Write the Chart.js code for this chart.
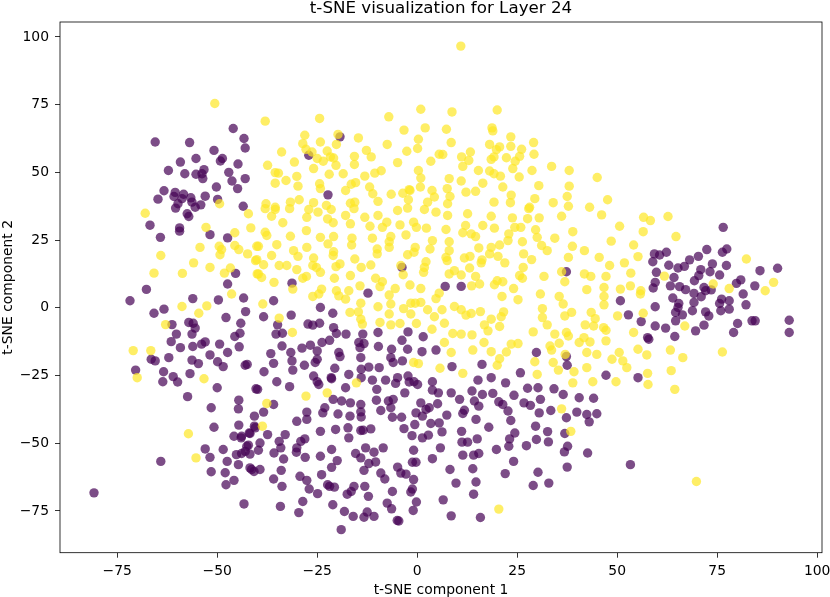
<!DOCTYPE html>
<html>
<head>
<meta charset="utf-8">
<script src="https://cdn.jsdelivr.net/npm/chart.js@4.4.1/dist/chart.umd.min.js"></script>
<style>
  html, body { margin: 0; padding: 0; background: #fff; }
  #wrap { width: 830px; height: 597px; }
</style>
</head>
<body>
<div id="wrap"><canvas id="tsne"></canvas></div>
<script>
// tick labels and axis limits
const xTicks = [-75, -50, -25, 0, 25, 50, 75, 100];
const yTicks = [-75, -50, -25, 0, 25, 50, 75, 100];
const xRange = [-89.3, 101.2];
const yRange = [-90.4, 105.5];

// class 0 (dark purple) points, [component 1, component 2]
const purplePts = [
  [-46,66.2],[-65.5,61.2],[-56.9,61],[-43.3,62.5],[-43,59],[-50.8,58.1],[-48.7,55.1],[-49.2,54.2],[-55.3,55.1],[-59.2,53.8],
  [-44.8,53.1],[-62.2,50.7],[-58.1,49.5],[-55.3,49.3],[-53.3,51],[-53.8,49.5],[-53.6,47.7],[-47.1,50],[-46.3,46.8],[-43,47.7],
  [-44.9,44],[-50.2,44.6],[-63.3,43.2],[-64.8,40.1],[-60.5,42.6],[-60.8,41.1],[-58.4,41.9],[-58.8,40.3],[-56.6,40.6],[-56.3,39],
  [-59.8,38.4],[-60.4,36.8],[-55.5,37.1],[-54.1,38],[-53,41.2],[-49.9,40],[-57.5,34.7],[-57.1,33.7],[-43.5,37.5],[-66.8,30.5],
  [-59.4,29.5],[-59.4,28.3],[-51.8,27],[-64.2,26],[-47.4,25.8],[-45.4,12.7],[-47.4,8.8],[-67.7,6.8],
  [-71.8,2.6],[-56.1,3.4],[-49.7,2.9],[-43.4,3.6],[-63.3,-0.5],[-65.8,-2],[-42.9,-1.4],[-47.8,-3.6],[-61.3,-6.2],[-57.1,-5.4],
  [-56,-5.7],[-55.5,-7.5],[-44.1,-5.7],[-60.2,-9.7],[-56.3,-9.7],[-44.3,-9.4],[-45.6,-10.6],[-61.5,-12.5],[-59.2,-14.7],[-56.1,-14.3],
  [-53.9,-13.4],[-53,-12.6],[-49.4,-13.4],[-44.5,-14.4],[-62.1,-18.4],[-66.5,-19],[-65.5,-19.6],[-51.8,-17.4],[-56.3,-19.3],[-54.7,-20.6],
  [-47.4,-16.5],[-49.9,-19.9],[-48.5,-21.7],[-43,-21.2],[-42.5,-20.9],[-70.4,-23],[-63.4,-23.6],[-56.8,-24.3],[-61,-25.4],[-63.6,-27.3],
  [-59.9,-27.4],[-50,-29.5],[-40.3,-29.9],[-57.4,-32.8],[-44.6,-34.1],[-44.7,-37.3],[-51.5,-36.9],[-40.7,-40],[-44.6,-43.3],[-50.8,-44.1],
  [-45.8,-47.4],[-44,-48],[-41.8,-46.4],[-40.5,-44.3],[-42.2,-50.7],[-53,-52.1],[-51.8,-55.2],[-48.5,-52.3],[-45.2,-54.2],[-43,-53],
  [-47.5,-56.7],[-44.7,-57.9],[-41.8,-59.1],[-64.1,-56.7],[-51.5,-60.5],[-48,-60.9],[-45.8,-63.7],[-47.8,-65.3],[-40.8,-60.4],[-80.8,-68.3],
  [-19.3,63.1],[-27.1,56.3],[-22.3,41.7],
  [-3.8,14.9],[-31.3,9.1],[7,7.9],[-12.3,5.4],[-35.9,2.6],[-38.4,-3.3],[-31.5,-2.7],[-21.1,-2],[-24.2,0.1],[-27.3,-6],
  [-26.1,-6.4],[-24.4,-5.7],[-34.9,-6.3],[-35.3,-9.7],[-33.7,-9.4],[-20.9,-7.3],[-20.2,-9.5],[-17.8,-9.7],[-13.6,-9.7],[-9.8,-9.1],
  [-2.3,-8.9],[1.5,-10.7],[-33.8,-14.1],[-31.6,-16.5],[-28.8,-14.9],[-26.7,-13.8],[-25,-15.9],[-23.8,-12.8],[-21.9,-12],[-19.6,-16.5],
  [-19.3,-18],[-14.6,-12.8],[-14.3,-14.7],[-13.3,-13.2],[-14.1,-18.4],[-9.7,-14.3],[-6.4,-15.3],[-3.8,-12],[-2.4,-15.3],[1.2,-16.2],
  [4.7,-15.6],[-36.6,-16.9],[-35.9,-20.5],[-31.3,-19.6],[-28.2,-21.2],[-25.5,-20.2],[-20.6,-22.3],[-17.1,-24.6],[-14,-22.7],[-12.1,-21.9],
  [-9.5,-22.1],[-6.6,-18.4],[-6,-20.2],[-3.7,-19.6],[-38.3,-23.6],[-31.1,-23],[-25.9,-25.2],[-21.5,-25.8],[-14,-25.8],[-11.2,-26.7],
  [-7.9,-26.7],[-4.9,-25.8],[-2.3,-25.2],[-0.8,-27.3],[3.8,-27.3],[-35.1,-27.3],[-25,-27.3],[-25,-19],
  [-31.9,-29.1],[-39.9,-30.1],[-24.6,-28.3],[-21.4,-26.2],[-17.9,-29.5],[-10.1,-30.1],[-5.4,-27.9],[-3.1,-31.4],[-2,-27.4],[0.1,-28.3],
  [3.8,-30.4],[5.3,-31.4],[8.5,-31.4],[-35.9,-35.7],[-38.4,-38.5],[-21,-33.8],[-18.9,-34.4],[-16.7,-35.1],[-14.1,-35.7],[-23.1,-36.9],
  [-27.6,-38.5],[-27.6,-41.2],[-23.6,-38.8],[-19.8,-39.2],[-16.8,-40],[-14.1,-38.4],[-14,-40.3],[-10.2,-34.1],[-9.1,-37.9],[-7.2,-34.4],
  [-6,-33.8],[-6.6,-36.9],[-6.2,-40.4],[-3.9,-40.4],[-0.3,-38.8],[0.9,-35.1],[2.2,-37.5],[3,-36.9],[5.1,-35.4],[7.4,-39.6],
  [-0.6,-43.1],[1.3,-40],[3.4,-42.7],[5.5,-42.5],[-30.1,-41.9],[-40.7,-43.7],[-37.4,-46.8],[-33,-46.8],[-43.9,-47.4],[-42,-46.2],
  [-24.2,-45.6],[-20.4,-44.9],[-17.3,-44.3],[-17.1,-48],[-14.1,-45.3],[-13.5,-45.2],[-11.6,-44.7],[-3.3,-44.6],[-1.3,-47.2],[1.3,-48],
  [2.8,-47],[6.2,-45.8],[-29.1,-49.3],[-28.1,-48.4],[-34.5,-49.3],[-42.6,-51.1],[-39.3,-49.9],[-39.7,-52.6],[-43.9,-53.8],[-41.8,-54],
  [-35.8,-53.6],[-34.1,-51.7],[-30.1,-51.7],[-30.2,-53.3],[-33.4,-55.8],[-28,-55.2],[-24.2,-54.8],[-21.4,-52.3],[-20,-56.4],[-21.4,-58.9],
  [-15.4,-53.8],[-14.1,-55.4],[-12.9,-51.7],[-10.8,-53.3],[-12.1,-57.5],[-10.4,-56.9],[-13.3,-60],[-8.5,-51.7],[-4.9,-58.8],[-4.1,-61],
  [-9.1,-61],[-8.1,-63.2],[-2.8,-61.4],[-0.9,-52.6],[-1.2,-57],[-0.3,-57],[-0.9,-63.4],[3.8,-55.7],[5.8,-51.7],[8.2,-59.7],
  [-23.9,-61.6],[-29.3,-62.2],[-34,-60],[-33.8,-65.9],[-35.9,-63.2],[-27.6,-63.7],[-27,-66.9],[-22.4,-65.3],[-21.9,-65.9],[-20.7,-66.2],
  [-24.9,-68.6],[-15.8,-65.9],[-16.5,-67.8],[-17.5,-68.8],[-13.1,-65.9],[-12.2,-69.6],[-6.2,-67.8],[-1.6,-68],[-1.2,-66.9],[-0.2,-71.7],
  [6.5,-70.9],[-7.5,-72.1],[-6.4,-74.2],[-1,-74.8],[-43.3,-72.4],[-34.2,-73.3],[-28.6,-71.5],[-29.6,-75.6],[-21.1,-72.7],[-18.2,-75.2],
  [-16,-77],[-13.3,-77.3],[-12.5,-75.4],[-10.8,-77],[-5,-78.5],[-4.6,-78.7],[-19,-81.9],[8.5,-76.8],[-39.3,-59.7],[-41.4,-59.7],
  [11,7.9],[37.3,13.3],[50.8,2.6],[52.8,-2.6],[56,-5.1],[57.9,-11.6],[29.8,-16.5],[37.3,-18],[37.5,-21.2],[8.7,-21.7],
  [16.2,-20.9],[25.8,-24],[18.5,-25.8],[15.2,-26.7],[22.1,-27.7],[47.2,-24.9],[55.2,-25.8],
  [10.6,-33.8],[13.7,-30.7],[14.3,-34.4],[16.3,-32],[18.9,-31.6],[20.4,-34.7],[21.4,-35.7],[15.4,-36.3],[24.2,-32.3],[27.6,-29.7],
  [30.2,-29.5],[34.2,-29.9],[36.5,-32],[40.5,-33.2],[44.1,-33.4],[26.7,-35.1],[28.3,-36],[30.8,-33.8],[22.7,-38.1],[11.4,-39],
  [11.8,-37.8],[14.7,-41.2],[23.4,-41.6],[30.5,-38.8],[33.4,-37.9],[37.3,-40.6],[39.9,-38.5],[42.4,-39.4],[44.9,-39.1],[43,-42.1],
  [17.9,-44.1],[29.6,-43.7],[11.1,-45.6],[24.4,-46.2],[23.1,-48.4],[32.6,-45.7],[36.9,-46.4],[11.2,-49.6],[12.6,-49.6],[15,-48.4],
  [19.8,-52.3],[22.9,-51.1],[27.3,-50.9],[29.8,-48.6],[32.8,-49.5],[37.6,-51.1],[36.8,-53.2],[42.6,-53.6],[11.4,-54.4],[14.1,-54.4],
  [15.4,-53.8],[24.1,-56.7],[37.5,-58.8],[53.3,-57.9],[13.9,-59.4],[22,-61.2],[30.2,-60.7],[9.7,-64.7],[14.7,-64.3],[29,-65.6],
  [32.9,-64.7],[14.1,-68.8],[15.8,-77.4],
  [76.5,29.7],[72.4,21.5],[76.3,20.5],[77.4,21.7],[59.3,19.9],[60.6,19.5],[62.3,20.5],[58.9,17],[68.1,17.7],[70.3,19],
  [73.8,16.2],[77.3,15.6],[62.9,15.7],[65.2,14.7],[66.8,15.3],[70.9,14.1],[73.2,13.3],[75.6,12.1],[59.8,13.1],[64.2,11.2],
  [69.3,10],[70.4,11.9],[59.5,9.4],[59,7.3],[63.3,8.1],[65.6,7.8],[67.1,6.7],[71.7,7.5],[72.1,6.3],[73.5,6.6],
  [69.2,5.3],[71,4.1],[79.8,9],[80.9,10.3],[85.7,13.7],[90.1,14.6],[84.4,8.1],[81.5,5.1],[63.9,3.6],[65.4,1.6],
  [69.2,2],[76.1,3.2],[78,2.6],[75.6,1.6],[82.2,1.1],[59.5,0.4],[65.2,0.1],[68.8,-1.1],[72.1,-1.5],[72.9,-3],
  [75.9,-1.1],[78,-0.5],[64.6,-1.7],[66.3,-2.6],[64.6,-4.8],[83.7,-4.8],[84.5,-4.8],[93,-4.6],[59.5,-6.7],[62.1,-7.5],
  [71.7,-6.4],[80.1,-5.8],[69.6,-8.5],[79.1,-9.1],[93,-9.1],[57.6,-11],[64.4,-10.6]
];

// class 1 (yellow) points, [component 1, component 2]
const yellowPts = [
  [-50.6,75.4],[-68,34.9],[-49.4,38.4],[-42.2,34.7],[-41.6,29.5],[-52.8,29.7],[-45.6,27.7],[-54.3,22.3],[-49.5,22.7],[-48.9,21.5],
  [-49.3,19.6],[-45.6,23],[-44.6,21.5],[-42.4,19.9],[-40.1,22.7],[-40.4,17.4],[-64.1,19.3],[-55.9,16.6],[-51.8,14.9],[-46.7,14.7],
  [-48.2,12.8],[-58.7,12.7],[-65.8,12.8],[-40,12.5],
  [-46.4,5.1],[-58.8,0.5],[-52.6,0.7],[-54.6,-2],[-62.9,-6.2],[-71,-15.8],[-66.6,-15.8],[-70,-25.8],[-53.3,-26.2],[-57.2,-46.5],
  [-55.3,-55.4],
  [-38,68.9],[-24.4,69.9],[-7.1,70.5],[0.9,73.3],[8.7,72.3],[-28.1,63.7],[-19.8,64],[-14.7,62.7],[-3.3,65.6],[2,66.4],
  [7.3,65.9],[-28.6,60.6],[-24.2,61.2],[-20.2,60.3],[-7.5,60.3],[0.3,62.2],[0.1,58.8],[8.5,61],[-33.9,57.5],[-27.8,58.5],
  [-26.3,57.5],[-22.5,57.9],[-12.7,58.1],[-2.6,57.8],[5.5,56.7],[6.4,56.6],[-30.7,53.8],[-25,55.1],[-23.5,54.1],[-21.7,55.7],
  [-20.9,55.3],[-15.7,55.9],[-11.5,55.7],[-37.4,52.6],[-20.3,52.6],[-15.7,52.9],[-4.9,53.6],[3.4,54.1],[-35.5,49.9],[-34.7,49.7],
  [-30.1,48.5],[-25.9,51.4],[-22,49.3],[-18.5,49.5],[-13.1,48.6],[-10.6,49.7],[-9,50.6],[0.3,50.7],[0.9,47.9],[8,47.7],
  [-35.5,46],[-32.8,47],[-29.8,44.9],[-24.4,45.8],[-24.2,44],[-16.5,45.6],[-15.4,46.2],[-11.9,44.6],[-17.9,43.3],[-11.1,42.1],
  [-6.5,41.9],[-3.6,42.3],[-1.8,43.3],[0.8,44.6],[3.7,43.3],[7.5,44],[4.3,40.9],[8.2,41.1],[-37.8,38.4],[-35.5,37.1],
  [-31.7,39],[-29.5,39.9],[-25.9,38.8],[-22.7,37.8],[-16.7,38.6],[-15.6,39],[-9.8,39.3],[-2.2,39.9],[-2,43.6],[2.6,39],
  [7.6,38.4],
  [-38,36.6],[-35.5,36.3],[-31.9,36.6],[-27.1,36.3],[-24.8,35.3],[-21.5,36.3],[-17.9,34.1],[-15.8,36.6],[-13.1,33.4],[-9.8,34.1],
  [-4.9,35.9],[-2.4,36.8],[1.8,36.3],[4.7,35.3],[7.6,34.1],[-36.4,33.8],[-27.6,33.4],[-22.4,32.8],[-33.6,31.4],[-21,31.4],
  [-16.7,31],[-11.8,30.1],[-8.7,29.7],[-7.6,31.6],[-4.3,30.6],[-0.9,31.6],[-0.2,29.7],[2.3,29.4],[7.2,28.9],[-38,27.9],
  [-37.6,26.7],[-31.7,26.4],[-27.7,28.5],[-24.2,26],[-20.9,26.3],[-16.3,25.7],[-11.2,25.7],[-7,24.4],[-6.6,26.3],[-2.8,26.9],
  [3.8,24.8],[8,24.4],[-39.7,22.7],[-35.1,23.3],[-30.9,21.1],[-27.6,22.3],[-22.3,23.6],[-16.4,23.2],[-10,21.7],[-7,22.3],
  [-0.5,22.3],[3.2,21.7],[8,21.1],[-40.1,17.8],[-36.4,19.3],[-29.8,19],[-25.9,18.4],[-21,19.3],[-20.9,20.7],[-15.6,18],
  [-10,19.9],[-2.4,19.6],[-0.8,20.5],[2.2,17],[7.2,18.6],[-38.4,15.9],[-34.5,15.6],[-32.6,15.6],[-30.1,14.1],[-26.1,15.6],
  [-25.2,14.9],[-20.3,15.2],[-19.3,16.2],[-14,14.9],[-11.6,15.8],[-4.1,15.6],[-3.5,12.2],[1.8,14.9],[1.6,13.1],[7.5,17.4],
  [8,12.5],[-39.7,12.5],[-38.9,11.2],[-28.6,10.9],[-27.7,11.6],[-24.2,13.1],[-20.7,10.9],[-16.7,11.9],[-10.4,10.9],[-8.7,9.6],
  [-35.8,9.4],[-31.1,6.9],[-23.9,6.9],[-20.2,6.3],[-17.1,6.3],[-14.3,8.1],[-9.3,7.8],[-5.5,7.1],[-1.8,8.4],[0.9,7.1],
  [4.7,3.4],[5.5,5.4],[-26.1,4.2],[-24.6,5.1],[-19.6,4.4],[-17.9,3.2],[-7,4.7],[-6.6,1.4],[-1.6,1.7],[-0.5,1.7],
  [0.9,2],[-38.6,1.4],[-14.1,1.7],[-9.8,0.4],[-3.4,-0.3],[2.6,-0.7],[6.2,-0.7],[-16.8,-1.7],[-14.7,-1.5],[-7,-2.3],
  [-1.6,-2.3],[4.3,-3.3],[-34.5,-3.8],[-14.1,-4.2],[-13.7,-6],[-9.3,-5.4],[-6.6,-6.3],[-4.3,-5.8],[-0.2,-5.8],[6.8,-5.7],
  [-31.2,-9.1],[3.7,-7.9],[6.8,-12.8],[8.5,-16.5],[-0.9,-20.2],[0.3,-20.6],[5.7,-22.3],[-15.2,-27.7],
  [-37.6,-35.3],[-27.8,-32.6],[-22.5,-31.4],[-38.7,-43.7],
  [10.9,96.6],[20,73],[18.7,66.4],[18.9,65.3],[23.4,63.1],[23.4,59.6],[29.1,61],[18.1,60.3],[20.6,59.4],[19.8,58.4],
  [26.1,58.5],[13.3,57.5],[29.2,56.7],[11.1,55.7],[12.9,54.4],[18.5,54.8],[19.2,55.7],[22.3,55.4],[24.5,54.1],[25.6,55.9],
  [11.4,52.2],[15.3,50.7],[18.1,50.5],[19.2,49.5],[20.8,48.6],[23.9,51.4],[28.7,50.7],[33.6,52.2],[38,50.7],[45,48.1],
  [25.5,48.3],[11,46.8],[16.4,46],[21.4,44.6],[30.4,45.1],[38,44.9],[12.2,42.7],[14.6,43],[23.5,41.6],[29.4,40.3],
  [37.5,41.1],[47.6,39.9],[19.2,39],[23.3,38.8],[28.1,37.1],[34,38.8],[37.8,37.5],[43.1,37.1],
  [12.6,34.7],[18.5,33.8],[23.8,33.2],[27.9,36.6],[27.6,32.9],[30.5,33.2],[36.1,33.8],[46.1,34.3],[56.6,33.4],[12.1,30.4],
  [11.4,27.7],[13.5,27.3],[14.6,26.3],[16.4,30.4],[19.3,29.4],[22.9,27.3],[24.4,29.7],[25.9,29.7],[29.6,28.8],[30,26],
  [34.4,25.7],[38.9,28.1],[50.6,30.1],[56.5,28.1],[15.4,22.1],[18.5,22.3],[20.6,23.2],[22.7,24.8],[26.3,24.4],[31.1,23],
  [32.5,21.1],[38.8,22.7],[41.8,21.1],[48.5,24.6],[54.1,23.2],[11.8,18.4],[13.2,19],[16.2,17.7],[16,16.6],[18.1,19.9],
  [20.2,19],[21.9,16.6],[26.6,19.9],[28.6,17.8],[37.8,18.6],[45.5,18.6],[51.8,16.6],[55.2,18.9],[9.3,13.7],[11,12.1],
  [13.1,14.7],[14.6,11.6],[15.6,8.8],[20,10],[21.4,9.6],[25.6,11.9],[26.5,14.9],[26.3,10.9],[31.7,11.6],[36.1,13.3],
  [36.9,9.6],[41.8,12.5],[43.4,11.6],[47.2,11.6],[48.1,15.6],[53.4,12.8],[13.6,8.1],[19.3,8.5],[24.1,7.1],[21.2,4.2],
  [25.2,3],[30.8,5.1],[35.5,4.2],[36.5,1.4],[42.4,6.7],[46.7,7.5],[46.7,4.2],[46.7,1.1],[50.8,6.9],[53.3,8.1],
  [55.8,5.1],[55.9,6.3],[9.3,0.5],[11,-0.7],[12.2,-2.7],[13.5,-2.1],[15.8,-1.4],[18.5,-4.2],[21,-3.3],[21.6,-1.5],
  [16.8,-6.3],[20.6,-6.9],[31.3,-0.3],[31.3,-3.6],[32.5,-6.3],[36.9,-3],[38.6,-1.7],[43.5,-1.7],[44.5,-4],[42,-6.3],
  [44.1,-6.7],[46.6,-7.3],[47.2,-8.3],[50.1,-3],[56.5,-2],[8.9,-9.5],[11,-9.7],[13.7,-10],[17.7,-8.5],[29,-8.9],
  [34.4,-9.7],[37.3,-9.1],[37.8,-10.4],[40.5,-12.8],[41.7,-11],[43.2,-12.6],[47.2,-12.2],[54.1,-9.1],[16.7,-12.8],[23.5,-13.4],
  [25.2,-13.2],[33.2,-14.1],[35.5,-13.1],[33.6,-15.6],[13.9,-15.6],[18.5,-16.2],[20.6,-18.8],[22.3,-16.3],[20,-21.2],[29.4,-19.9],
  [34,-20.2],[35.3,-23],[39.2,-23.6],[37,-17.2],[42.4,-16.5],[44.9,-17.2],[48.7,-19],[50.5,-16.5],[51.4,-19.6],[52.4,-22.1],
  [55.2,-15.3],[57.4,-17.4],[42.4,-22.1],[11.4,-24.2],[30,-24.6],[38.9,-27.7],[43.9,-27.3],[49.7,-27.3],
  [57.7,-28.3],[36.1,-37.3],[38.4,-45.6],[20.4,-74.3],
  [58.3,32.2],[62.7,33.7],[64.7,26.3],[82.3,18],[61.8,11.7],[74,8.8],[78,7.1],[89.1,9.4],[87,6.3],[66.9,-6.7],
  [63.3,-15.6],[66.4,-18.4],[76.3,-16.3],[57.6,-24.2],[63.5,-23.2],[64.4,-30.1],[69.8,-64.1]
];

const toXY = pts => pts.map(p => ({ x: p[0], y: p[1] }));
const fmtTick = v => String(v).replace('-', '\u2212');
const labelFont = { family: 'DejaVu Sans', size: 13.9 };

// closed black frame round the plot, like the matplotlib spines
const framePlugin = {
    id: 'frame',
    afterDraw(chart) {
        const { ctx, chartArea: a } = chart;
        ctx.save();
        ctx.strokeStyle = '#000';
        ctx.lineWidth = 0.8;
        ctx.strokeRect(a.left, a.top, a.right - a.left, a.bottom - a.top);
        ctx.restore();
    }
};

function axis(ticks, range, title, tickPad, fit, titlePad) {
    return {
        type: 'linear',
        min: range[0],
        max: range[1],
        afterBuildTicks: s => { s.ticks = ticks.map(v => ({ value: v })); },
        afterFit: s => {
            fit(s);
            // let the end labels hang past the plot, as matplotlib does
            s.paddingLeft = 0; s.paddingRight = 0; s.paddingTop = 0; s.paddingBottom = 0;
        },
        border: { display: false },
        grid: { display: true, drawOnChartArea: false, drawTicks: true, tickLength: 5, color: '#000', lineWidth: 0.8 },
        ticks: { color: '#000', font: labelFont, padding: tickPad, autoSkip: false, maxRotation: 0, callback: fmtTick },
        title: { display: true, text: title, color: '#000', font: labelFont, padding: titlePad }
    };
}

new Chart(document.getElementById('tsne'), {
    type: 'scatter',
    data: {
        datasets: [
            { label: '1', data: toXY(yellowPts), backgroundColor: 'rgba(253,231,37,0.7)', borderWidth: 0, pointRadius: 4.7, pointHoverRadius: 4.7 },
            { label: '0', data: toXY(purplePts), backgroundColor: 'rgba(68,1,84,0.7)', borderWidth: 0, pointRadius: 4.7, pointHoverRadius: 4.7 }
        ]
    },
    options: {
        responsive: true,
        maintainAspectRatio: false,
        animation: false,
        layout: { padding: { left: 0, right: 8, top: 0, bottom: 0 } },
        scales: {
            x: axis(xTicks, xRange, 't-SNE component 1', 5, s => { s.height = 44.3; }, { top: 0, bottom: -2 }),
            y: axis(yTicks, yRange, 't-SNE component 2', 6, s => { s.width = 60; }, { top: 0, bottom: 1 })
        },
        plugins: {
            legend: { display: false },
            tooltip: { enabled: false },
            title: {
                display: true,
                text: 't-SNE visualization for Layer 24',
                fullSize: false,
                color: '#000',
                font: { family: 'DejaVu Sans', size: 16.7, weight: 'normal', lineHeight: 1 },
                padding: { top: 0, bottom: 5.3 }
            }
        }
    },
    plugins: [framePlugin]
});
</script>
</body>
</html>
